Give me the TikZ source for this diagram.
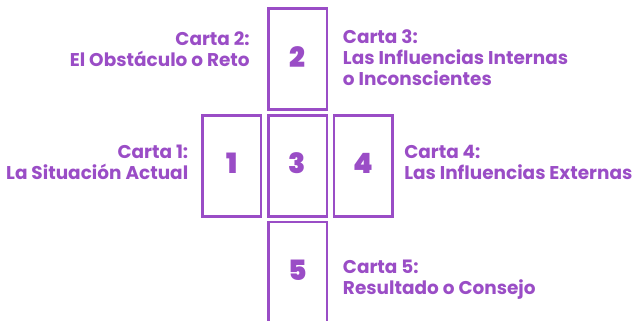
\documentclass[tikz,border=0pt]{standalone}
\usepackage{fontspec}
\setmainfont{Poppins}
\newfontfamily\numfont{Poppins Black}
\definecolor{tarot}{HTML}{9A4DC6}
\begin{document}
\begin{tikzpicture}[x=0.75pt,y=-0.75pt,
  card/.style={draw=tarot,line width=1.9pt,minimum width=43.9pt,minimum height=75.75pt,
    inner sep=0pt,text=tarot,font=\numfont\fontsize{21}{21}\selectfont,text depth=3.5pt},
  lbl/.style={text=tarot,inner sep=0pt,font=\bfseries\fontsize{13.85}{15.75}\selectfont}]
\useasboundingbox (0,0) rectangle (633,321);
\clip (0,0) rectangle (633,321);
\node[card] (c2) at (297.6,59) {2};
\node[card] (c1) at (231.6,165.8) {1};
\node[card] (c3) at (297.6,165.8) {3};
\node[card] (c4) at (363.2,165.8) {4};
\node[card] (c5) at (297.6,272.5) {5};
\node[lbl,anchor=base east,align=right] (l2) at (250,66.7) {Carta 2:\\El Obstáculo o Reto};
\node[lbl,anchor=base west,align=left] (l3) at (342.7,85.3) {Carta 3:\\Las Influencias Internas\\o Inconscientes};
\node[lbl,anchor=base east,align=right] (l1) at (188.5,179.3) {Carta 1:\\La Situación Actual};
\node[lbl,anchor=base west,align=left] (l4) at (404,179.3) {Carta 4:\\Las Influencias Externas};
\node[lbl,anchor=base west,align=left] (l5) at (342.7,294.3) {Carta 5:\\Resultado o Consejo};
\end{tikzpicture}
\end{document}
